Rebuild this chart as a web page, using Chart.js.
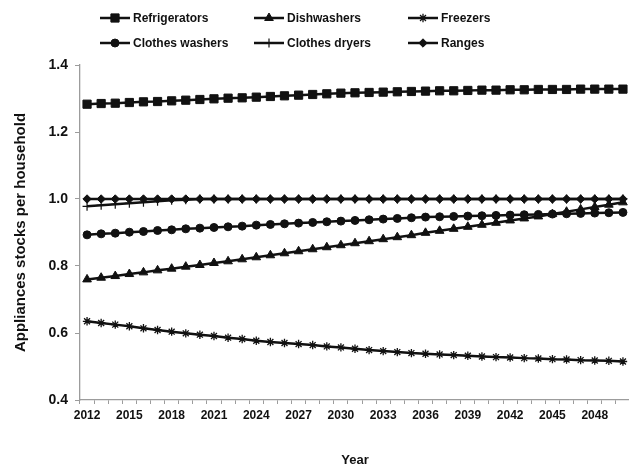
<!DOCTYPE html>
<html>
<head>
<meta charset="utf-8">
<script src="https://cdn.jsdelivr.net/npm/chart.js@4/dist/chart.umd.min.js"></script>
<style>
  html, body { margin: 0; padding: 0; background: #fff; overflow: hidden; }
  #wrap { position: absolute; left: 0; top: 0; width: 632px; height: 471px; }
</style>
</head>
<body>
<div id="wrap"><canvas id="c"></canvas></div>
<script>
// Projection years
const years = ['2012','2013','2014','2015','2016','2017','2018','2019','2020','2021',
               '2022','2023','2024','2025','2026','2027','2028','2029','2030','2031',
               '2032','2033','2034','2035','2036','2037','2038','2039','2040','2041',
               '2042','2043','2044','2045','2046','2047','2048','2049','2050'];

// Appliance stocks per household, by appliance type
const refrigerators = [1.283,1.285,1.286,1.288,1.290,1.291,1.293,1.295,1.297,1.299,
                       1.301,1.302,1.304,1.306,1.308,1.310,1.312,1.314,1.316,1.317,
                       1.318,1.319,1.320,1.321,1.322,1.323,1.323,1.324,1.325,1.325,
                       1.326,1.326,1.327,1.327,1.327,1.328,1.328,1.328,1.328];
const dishwashers   = [0.760,0.765,0.770,0.776,0.781,0.787,0.792,0.798,0.803,0.809,
                       0.814,0.820,0.826,0.832,0.838,0.844,0.850,0.856,0.862,0.868,
                       0.874,0.880,0.886,0.892,0.899,0.905,0.911,0.917,0.923,0.929,
                       0.936,0.942,0.948,0.955,0.962,0.969,0.976,0.983,0.990];
const freezers      = [0.635,0.630,0.625,0.620,0.614,0.609,0.604,0.599,0.595,0.591,
                       0.586,0.582,0.577,0.573,0.570,0.567,0.564,0.560,0.557,0.553,
                       0.549,0.546,0.543,0.540,0.538,0.536,0.534,0.532,0.530,0.528,
                       0.527,0.525,0.524,0.522,0.521,0.519,0.518,0.517,0.515];
const clothesWashers = [0.893,0.896,0.898,0.901,0.903,0.906,0.908,0.911,0.913,0.915,
                        0.917,0.919,0.922,0.924,0.926,0.928,0.930,0.932,0.934,0.936,
                        0.938,0.940,0.942,0.944,0.946,0.947,0.948,0.949,0.950,0.951,
                        0.952,0.953,0.954,0.955,0.956,0.957,0.958,0.959,0.960];
const clothesDryers = [0.978,0.981,0.984,0.987,0.990,0.993,0.996,0.998,1.000,1.000,
                       1.000,1.000,1.000,1.000,1.000,1.000,1.000,1.000,1.000,1.000,
                       1.000,1.000,1.000,1.000,1.000,1.000,1.000,1.000,1.000,1.000,
                       1.000,1.000,1.000,1.000,1.000,1.000,1.000,1.000,1.000];
const ranges        = [1.000,1.000,1.000,1.000,1.000,1.000,1.000,1.000,1.000,1.000,
                       1.000,1.000,1.000,1.000,1.000,1.000,1.000,1.000,1.000,1.000,
                       1.000,1.000,1.000,1.000,1.000,1.000,1.000,1.000,1.000,1.000,
                       1.000,1.000,1.000,1.000,1.000,1.000,1.000,1.000,1.000];

const yTicks = [0.4, 0.6, 0.8, 1.0, 1.2, 1.4];

const INK = '#111111';
const AXIS = '#9c9c9c';
Chart.defaults.font.family = "'Liberation Sans', Arial, sans-serif";
Chart.defaults.color = INK;

function series(label, data, style, radius, borderW) {
  return {
    label, data,
    borderColor: INK,
    backgroundColor: INK,
    borderWidth: 2.5,
    pointStyle: style,
    pointRadius: radius,
    pointHoverRadius: radius,
    pointBackgroundColor: INK,
    pointBorderColor: INK,
    pointBorderWidth: borderW,
    tension: 0,
    fill: false,
    clip: false
  };
}

const datasets = [
  series('Refrigerators', refrigerators, 'rect', 5.8, 1),
  series('Dishwashers', dishwashers, 'triangle', 5, 1),
  series('Freezers', freezers, 'star', 4.2, 1.3),
  series('Clothes washers', clothesWashers, 'circle', 4, 1),
  series('Clothes dryers', clothesDryers, 'cross', 4.5, 1.2),
  series('Ranges', ranges, 'rectRot', 4.2, 1)
];
// later series are painted over earlier ones
datasets.forEach((d, i) => { d.order = datasets.length - i; });

// Three-column legend above the plot
const gridLegend = {
  id: 'gridLegend',
  afterDraw(chart, args, opts) {
    const ctx = chart.ctx;
    ctx.save();
    chart.data.datasets.forEach((ds, i) => {
      const col = i % 3, row = Math.floor(i / 3);
      const x0 = opts.colX[col], y = opts.rowY[row];
      ctx.strokeStyle = ds.borderColor;
      ctx.lineWidth = ds.borderWidth;
      ctx.beginPath();
      ctx.moveTo(x0, y);
      ctx.lineTo(x0 + opts.lineLen, y);
      ctx.stroke();
      ctx.fillStyle = ds.pointBackgroundColor;
      ctx.strokeStyle = ds.pointBorderColor;
      ctx.lineWidth = ds.pointBorderWidth;
      Chart.helpers.drawPoint(ctx, {
        pointStyle: ds.pointStyle,
        radius: ds.pointRadius,
        borderWidth: ds.pointBorderWidth,
        rotation: 0
      }, x0 + opts.lineLen / 2, y);
      ctx.fillStyle = INK;
      ctx.font = opts.font;
      ctx.textAlign = 'left';
      ctx.textBaseline = 'middle';
      ctx.fillText(ds.label, x0 + opts.lineLen + 3, y + 0.5);
    });
    ctx.restore();
  }
};

new Chart(document.getElementById('c'), {
  type: 'line',
  data: { labels: years, datasets },
  plugins: [gridLegend],
  options: {
    responsive: true,
    maintainAspectRatio: false,
    animation: false,
    devicePixelRatio: 1,
    layout: { autoPadding: false, padding: { top: 65, right: 2, bottom: 0, left: 0 } },
    plugins: {
      legend: { display: false },
      tooltip: { enabled: false },
      gridLegend: {
        colX: [100, 254, 408],
        rowY: [18, 43],
        lineLen: 30,
        font: "bold 12px 'Liberation Sans', Arial, sans-serif"
      }
    },
    scales: {
      x: {
        type: 'category',
        offset: true,
        grid: {
          offset: true,
          drawOnChartArea: false,
          drawTicks: true,
          tickLength: 4,
          color: AXIS,
          lineWidth: 1
        },
        border: { display: true, color: AXIS, width: 1.3 },
        ticks: {
          autoSkip: false,
          maxRotation: 0,
          minRotation: 0,
          padding: 4,
          color: INK,
          font: { size: 12, weight: 'bold' },
          callback(value, index) {
            return index % 3 === 0 ? this.getLabelForValue(value) : '';
          }
        },
        title: {
          display: true,
          text: 'Year',
          color: INK,
          font: { size: 13, weight: 'bold' },
          padding: { top: 0, bottom: 3 }
        },
        afterFit(scale) {
          scale.height = 71;
          scale.paddingLeft = 0;
          scale.paddingRight = 0;
        }
      },
      y: {
        min: 0.4,
        max: 1.4,
        afterBuildTicks(scale) { scale.ticks = yTicks.map(v => ({ value: v })); },
        grid: {
          drawOnChartArea: false,
          drawTicks: true,
          tickLength: 5,
          color: AXIS,
          lineWidth: 1
        },
        border: { display: true, color: AXIS, width: 1.3 },
        ticks: {
          padding: 7,
          color: INK,
          font: { size: 14, weight: 'bold' },
          callback(v) { return Number(v).toFixed(1); }
        },
        title: {
          display: true,
          text: 'Appliances stocks per household',
          color: INK,
          font: { size: 15, weight: 'bold' },
          padding: { top: 12, bottom: 0 }
        },
        afterFit(scale) { scale.width = 80; }
      }
    }
  }
});
</script>
</body>
</html>
